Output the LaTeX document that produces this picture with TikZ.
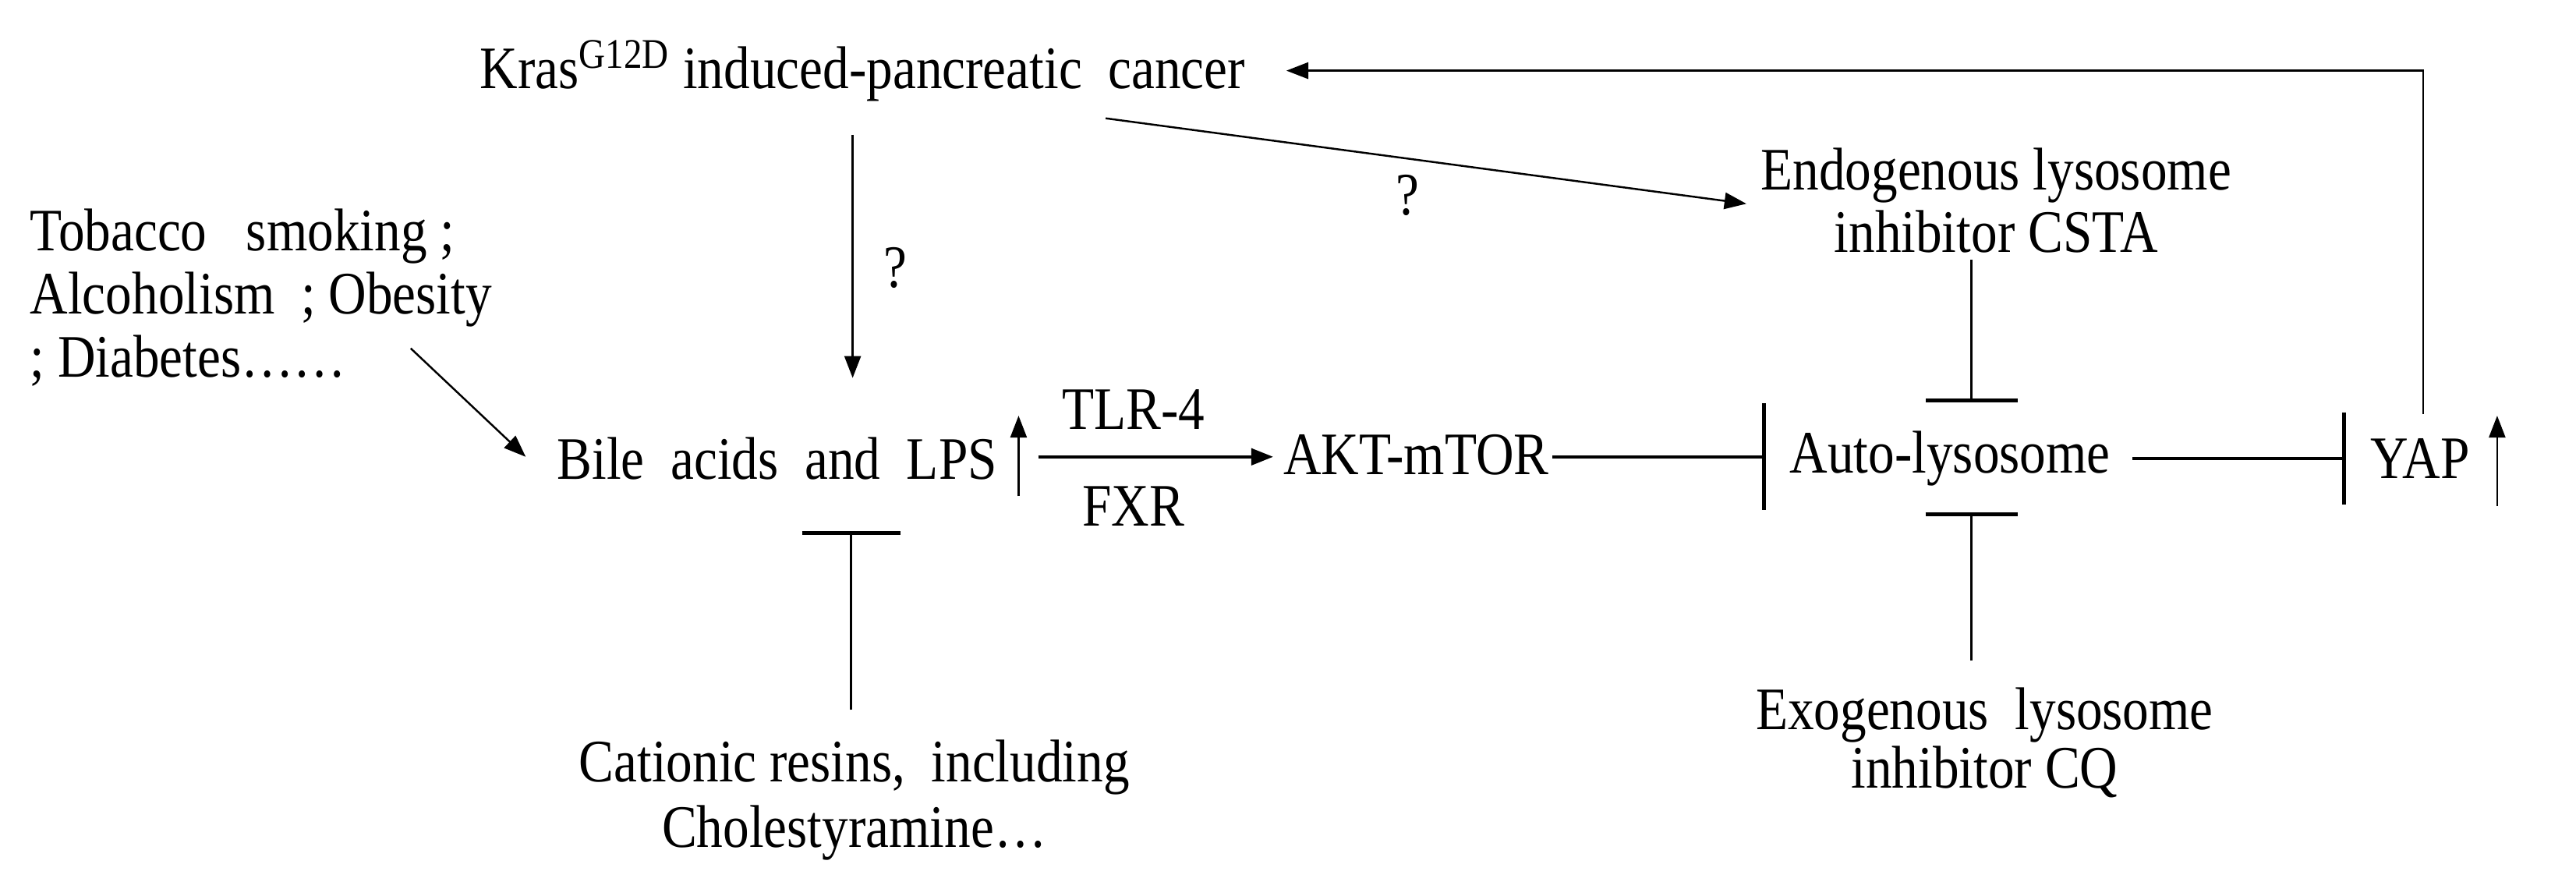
\documentclass[tikz,border=0pt]{standalone}
\usepackage{fontspec}
\setmainfont{Liberation Serif}[FakeStretch=0.87]
\usetikzlibrary{arrows.meta,calc}
\begin{document}
\begin{tikzpicture}[x=0.02107cm,y=-0.02107cm,
  every node/.style={font=\fontsize{22}{23}\selectfont, inner sep=0pt, align=center},
  thin line/.style={line width=0.7pt},
  thick line/.style={line width=1.2pt},
  act/.style={-{Triangle[length=8pt,width=6pt]}},
  inh/.style={-{Bar[width=#1, line width=1.4pt]}},
  inh/.default=1.18cm]
\useasboundingbox (0,0) rectangle (1568,541);
% nodes
\node (kras) at (525,43) {Kras\textsuperscript{G12D} induced-pancreatic\ \ cancer};
\node[font=\fontsize{22}{22.5}\selectfont] (endo) at (1215,122) {Endogenous\ lysosome\\inhibitor CSTA};
\node[anchor=west, align=left] (tob) at (18,181) {Tobacco\ \ \ smoking ;\\Alcoholism\ \ ; Obesity\\; Diabetes……};
\node (bile) at (473,279) {Bile\ \ acids\ \ and\ \ LPS};
\node (akt) at (862,277) {AKT-mTOR};
\node (auto) at (1187,279) {Auto-lysosome};
\node (yap) at (1473,279) {YAP};
\node[font=\fontsize{22}{24}\selectfont] (cat) at (520,487) {Cationic resins,\ \ including\\Cholestyramine…};
\node[font=\fontsize{22}{21.5}\selectfont] (exo) at (1208,452) {Exogenous\ \ lysosome\\inhibitor\ CQ};
\node (tlr) at (690,249) {TLR-4};
\node (fxr) at (690,308) {FXR};
\node (q1) at (545,163) {?};
\node (q2) at (857,119) {?};
% connectors
\draw[act, thin line] ($(kras)+(-6,39)$) -- ($(bile)+(46,-49)$);
\draw[act, thin line] ($(kras)+(148,29)$) -- ($(endo)+(-152,2)$);
\draw[act, thin line] ($(tob.west)+(232,31)$) -- ($(bile)+(-153,-1)$);
\draw[act, thin line] ($(bile)+(147,23)$) -- ($(bile)+(147,-26)$);
\draw[act, thick line] ($(bile)+(159,-1)$) -- ($(akt)+(-87,1)$);
\draw[inh=1.37cm, thick line] ($(akt)+(83,1)$) -- ($(auto)+(-112,-1)$);
\draw[inh=1.18cm, thick line] ($(auto)+(111,0)$) -- ($(yap)+(-45,0)$);
\draw[act, thin line] ($(yap)+(47,29)$) -- ($(yap)+(47,-26)$);
\draw[act, thin line] ($(yap)+(2,-27)$) |- ($(kras)+(258,0)$);
\draw[inh=1.18cm, thin line] ($(endo)+(-15,36)$) -- ($(auto)+(13,-34)$);
\draw[inh=1.18cm, thin line] ($(exo)+(-8,-50)$) -- ($(auto)+(13,33)$);
\draw[inh=1.26cm, thin line] ($(cat)+(-2,-55)$) -- ($(bile)+(45,44)$);
\end{tikzpicture}
\end{document}
